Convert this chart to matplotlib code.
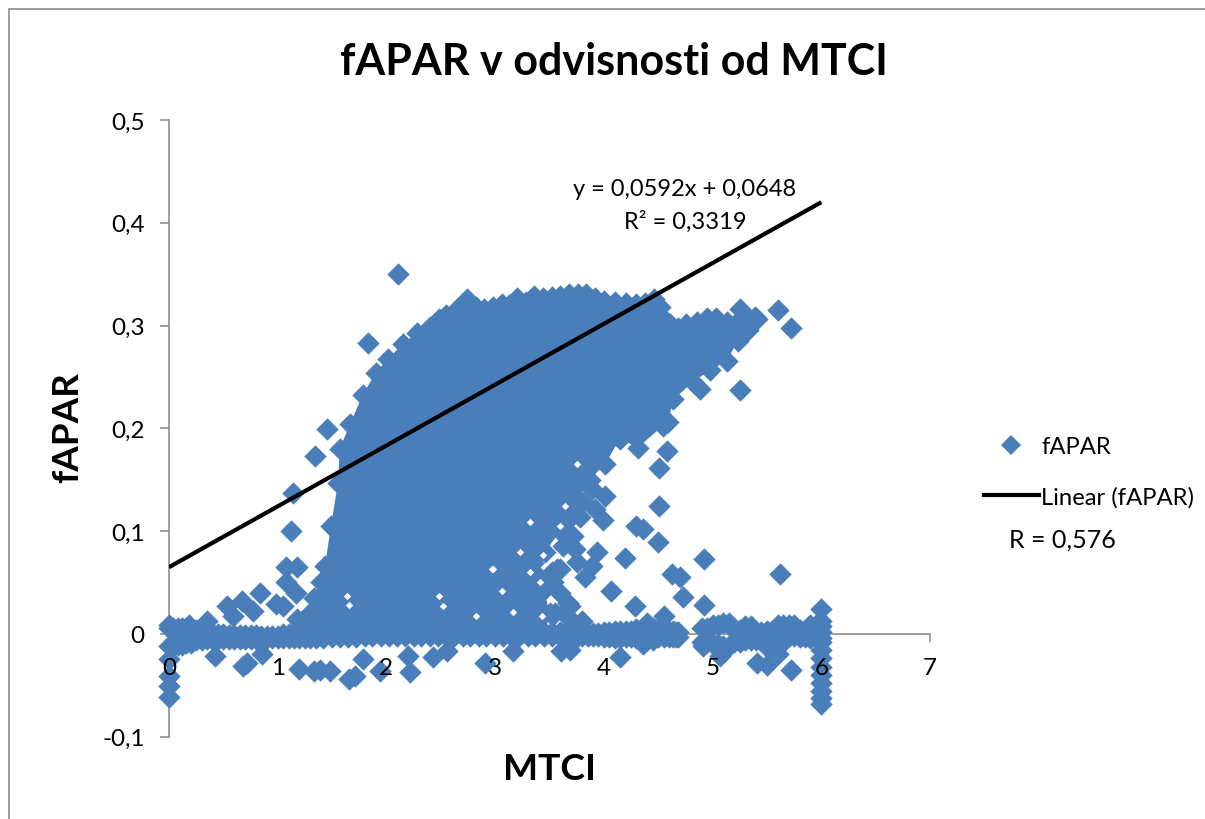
import matplotlib.pyplot as plt
from matplotlib.lines import Line2D
from matplotlib.patches import Rectangle

plt.rcParams['font.family'] = ['Lato', 'DejaVu Sans']

# outline of the dense cloud, read around the picture (also drawn as points)
cloud_x = [1.30, 1.30, 1.33, 1.40, 1.435, 1.49, 1.555, 1.57, 1.665, 1.78, 1.90, 2.01, 2.15, 2.28, 2.40, 2.48, 2.55, 2.65,
           2.74, 2.82, 2.90, 2.98, 3.06, 3.13, 3.20, 3.28, 3.36, 3.44, 3.52, 3.60, 3.68, 3.76, 3.84, 3.92, 4.00,
           4.10, 4.20, 4.30, 4.38, 4.46, 4.52, 4.56, 4.61, 4.68, 4.76, 4.86, 4.95, 5.03, 5.13, 5.25, 5.32, 5.39,
           5.41, 5.33, 5.23, 5.13, 4.98, 4.82, 4.64, 4.59, 4.54, 4.31, 4.15, 4.01, 3.87, 3.73, 3.60, 3.46, 3.40,
           3.45, 3.50, 3.46]
cloud_y = [0.000, 0.020, 0.035, 0.050, 0.066, 0.105, 0.147, 0.180, 0.204, 0.232, 0.254, 0.267, 0.282, 0.293, 0.299, 0.306,
           0.310, 0.316, 0.326, 0.318, 0.316, 0.318, 0.321, 0.320, 0.327, 0.323, 0.329, 0.327, 0.328, 0.329, 0.331,
           0.331, 0.331, 0.327, 0.324, 0.323, 0.322, 0.321, 0.322, 0.326, 0.318, 0.305, 0.301, 0.298, 0.301, 0.303,
           0.307, 0.307, 0.303, 0.316, 0.308, 0.308, 0.306, 0.296, 0.285, 0.265, 0.257, 0.245, 0.228, 0.206, 0.202,
           0.181, 0.190, 0.165, 0.150, 0.125, 0.100, 0.080, 0.055, 0.043, 0.020, 0.000]

# row of points along zero
band_x = [0.00, 0.08, 0.16, 0.25, 0.35, 0.45, 0.55, 0.65, 0.75, 0.85, 0.95, 1.05, 1.15, 1.25, 1.35, 1.50, 1.65,
          1.80, 1.95, 2.10, 2.25, 2.40, 2.55, 2.70, 2.85, 3.00, 3.15, 3.30, 3.45, 3.60, 3.70, 3.80, 3.90, 4.00,
          4.10, 4.20, 4.30, 4.40, 4.50, 4.60, 4.68, 4.90, 5.00, 5.10, 5.20, 5.30, 5.40, 5.50, 5.60, 5.70, 5.80,
          5.90, 6.00]
band_hi = [0.006, 0.006, 0.006, 0.004, 0.001, 0.000, -0.001, -0.001, -0.001, -0.002, -0.002, 0.000, 0.002, 0.004,
           0.004, 0.002, 0.002, 0.002, 0.002, 0.002, 0.002, 0.002, 0.002, 0.002, 0.002, 0.002, 0.002, 0.002,
           0.002, 0.002, 0.002, 0.001, 0.001, 0.002, 0.003, 0.003, 0.005, 0.006, 0.005, 0.003, 0.002, 0.006,
           0.009, 0.010, 0.004, 0.008, 0.002, 0.003, 0.009, 0.009, 0.004, 0.009, 0.008]
band_lo = [-0.012, -0.011, -0.009, -0.006, -0.005, -0.005, -0.005, -0.005, -0.005, -0.004, -0.004, -0.004, -0.004,
           -0.004, -0.004, -0.003, -0.003, -0.002, -0.002, -0.002, -0.002, -0.002, -0.002, -0.002, -0.002,
           -0.002, -0.002, -0.002, -0.002, -0.002, -0.003, -0.002, -0.002, -0.003, -0.004, -0.003, -0.004,
           -0.006, -0.003, -0.003, -0.003, -0.008, -0.010, -0.012, -0.008, -0.006, -0.006, -0.010, -0.008,
           -0.002, -0.003, -0.004, -0.004]
# the same row again, points lying between the ones above
band_mid_x = [0.04, 0.12, 0.20, 0.30, 0.40, 0.50, 0.60, 0.70, 0.80, 0.90, 1.00, 1.10, 1.20, 1.30, 1.42, 1.57, 1.72,
              1.87, 2.02, 2.17, 2.32, 2.47, 2.62, 2.77, 2.92, 3.07, 3.22, 3.37, 3.52, 3.65, 3.75, 3.85, 3.95, 4.05,
              4.15, 4.25, 4.35, 4.45, 4.55, 4.64, 4.66, 4.95, 5.05, 5.15, 5.25, 5.35, 5.45, 5.55, 5.65, 5.75, 5.85,
              5.95, 5.98]

# points standing apart from the cloud
single_x = [2.11, 1.83, 1.45, 1.34, 1.14, 1.12, 1.08, 1.18, 1.08, 1.17, 0.84, 0.67, 0.53, 0.77, 0.59, 0.98, 1.05,
            1.18, 0.35, 0.18, 0.00, 0.42, 0.68, 0.72, 0.86, 1.20, 1.33, 1.39, 1.48, 1.66, 1.71, 1.94, 2.22, 2.20,
            2.43, 2.56, 2.91, 1.78, 3.16, 3.61, 3.69, 4.15, 4.36, 4.91, 5.07, 5.41, 5.50, 5.52, 5.60, 5.72,
            4.55, 4.40, 5.60, 5.72, 4.88, 5.25, 4.58, 4.51, 4.51, 4.30, 4.36, 4.50, 4.19, 4.07, 4.92, 5.62,
            4.63, 4.70, 4.73, 4.92, 4.29, 3.99, 4.01, 3.89, 3.92, 3.94, 3.89, 3.83, 3.72, 3.60, 3.60, 3.75,
            3.67, 3.52, 3.55, 3.68, 3.80, 3.66, 3.73, 3.57, 3.69, 3.66, 3.35, 3.53, 3.81, 3.78, 3.62, 3.72,
            3.60, 0.00, 0.00, 0.00, 0.00]
single_y = [0.350, 0.283, 0.199, 0.173, 0.137, 0.100, 0.065, 0.065, 0.050, 0.040, 0.040, 0.032, 0.027, 0.022,
            0.017, 0.029, 0.027, 0.014, 0.012, 0.009, 0.009, -0.022, -0.031, -0.028, -0.020, -0.034, -0.036,
            -0.035, -0.036, -0.044, -0.041, -0.036, -0.037, -0.022, -0.023, -0.017, -0.028, -0.025, -0.017,
            -0.017, -0.016, -0.023, -0.010, -0.012, -0.022, -0.028, -0.030, -0.015, -0.020, -0.035, 0.017,
            0.010, 0.315, 0.298, 0.238, 0.237, 0.178, 0.161, 0.124, 0.105, 0.102, 0.089, 0.074, 0.042, 0.073,
            0.058, 0.058, 0.055, 0.036, 0.028, 0.027, 0.111, 0.134, 0.141, 0.121, 0.080, 0.066, 0.055, 0.095,
            0.063, 0.040, 0.070, 0.030, 0.060, 0.020, 0.015, 0.012, 0.110, 0.082, 0.063, 0.027, 0.017, 0.069,
            0.050, 0.128, 0.114, 0.085, 0.120, 0.140, -0.025, -0.041, -0.051, -0.062]

# column of points at the MTCI limit of 6
limit_y = [0.024, 0.012, 0.002, -0.008, -0.016, -0.024, -0.032, -0.040, -0.048, -0.056, -0.063, -0.068]
limit_x = [6.00] * len(limit_y)

# small uncovered specks inside the cloud
gap_x = [1.64, 1.66, 2.52, 2.48, 2.82, 2.97, 3.23, 3.32, 2.98, 3.06, 3.44, 3.32, 3.41, 3.43, 3.16, 3.64, 3.60, 3.75]
gap_y = [0.037, 0.028, 0.027, 0.037, 0.017, 0.063, 0.080, 0.109, 0.063, 0.042, 0.077, 0.060, 0.050, 0.017, 0.021,
         0.124, 0.105, 0.165]

fit_x = [0, 6]
fit_y = [0.0648, 0.42]

x_ticks = [0, 1, 2, 3, 4, 5, 6, 7]
y_ticks = [-0.1, 0, 0.1, 0.2, 0.3, 0.4, 0.5]
y_labels = ['-0,1', '0', '0,1', '0,2', '0,3', '0,4', '0,5']

blue = '#4A7EBB'
gray = '#868686'
W, H = 1205, 820

fig = plt.figure(figsize=(W / 100, H / 100), dpi=100)
fig.add_artist(Rectangle((8.5 / W, -0.1), 1.2, 1.1 - 9.5 / H, transform=fig.transFigure,
                         fill=False, edgecolor='#8C8C8C', linewidth=1.2))

ax = fig.add_axes([169 / W, 1 - 737.5 / H, 761 / W, 616.5 / H])
ax.set_xlim(0, 7)
ax.set_ylim(-0.1, 0.5)
for side in ['top', 'right']:
    ax.spines[side].set_visible(False)
ax.spines['bottom'].set_position(('data', 0))
for side in ['left', 'bottom']:
    ax.spines[side].set_color(gray)
    ax.spines[side].set_linewidth(1.1)
ax.set_xticks(x_ticks)
ax.set_yticks(y_ticks)
ax.set_yticklabels(y_labels)
ax.tick_params(axis='x', colors=gray, length=6, width=1.1, labelbottom=False)
ax.tick_params(axis='y', color=gray, labelcolor='black', length=6.5, width=1.1, labelsize=17.5, pad=11)

style = dict(marker='D', s=130, color=blue, linewidths=0, clip_on=False, zorder=3)
ax.fill(cloud_x, cloud_y, color=blue, linewidth=0, zorder=3)
ax.scatter(cloud_x, cloud_y, **style)
ax.scatter(band_x, band_hi, **style)
ax.scatter(band_x, band_lo, **style)
ax.scatter(band_mid_x, band_hi, **style)
ax.scatter(band_mid_x, band_lo, **style)
ax.scatter(single_x, single_y, **style)
ax.scatter(limit_x, limit_y, **style)
ax.scatter(gap_x, gap_y, marker='D', s=14, color='white', linewidths=0, zorder=3.5)
ax.plot(fit_x, fit_y, color='black', linewidth=3, solid_capstyle='butt', zorder=4)

fig.text(685 / W, 1 - 190 / H, 'y = 0,0592x + 0,0648', ha='center', va='center', fontsize=17, zorder=6)
fig.text(685 / W, 1 - 222 / H, 'R² = 0,3319', ha='center', va='center', fontsize=17, zorder=6)

# x labels go on a clear axes on top, they are printed over the markers
ax_labels = fig.add_axes(ax.get_position(), facecolor='none')
ax_labels.set_xlim(0, 7)
ax_labels.set_ylim(-0.1, 0.5)
ax_labels.spines['bottom'].set_position(('data', 0))
for spine in ax_labels.spines.values():
    spine.set_visible(False)
ax_labels.set_yticks([])
ax_labels.set_xticks(x_ticks)
ax_labels.tick_params(axis='x', length=0, labelsize=17.5, pad=17)

fig.text(614 / W, 1 - 62 / H, 'fAPAR v odvisnosti od MTCI', ha='center', va='center', fontsize=31, fontweight='bold')
fig.text(549 / W, 1 - 770 / H, 'MTCI', ha='center', va='center', fontsize=26.8, fontweight='bold')
fig.text(68 / W, 1 - 428 / H, 'fAPAR', ha='center', va='center', fontsize=26.5, fontweight='bold', rotation=90)

handles = [Line2D([], [], marker='D', markersize=10, color=blue, linestyle='none', markeredgewidth=0),
           Line2D([], [], color='black', linewidth=3)]
fig.legend(handles, ['fAPAR', 'Linear (fAPAR)'], loc='upper left', bbox_to_anchor=(984 / W, 1 - 437 / H),
           frameon=False, fontsize=17.2, handlelength=2.3, handletextpad=0.1, labelspacing=1.2, borderpad=0, borderaxespad=0)
fig.text(1009 / W, 1 - 540 / H, 'R = 0,576', ha='left', va='center', fontsize=18)

fig.savefig('out.png', dpi=100)
